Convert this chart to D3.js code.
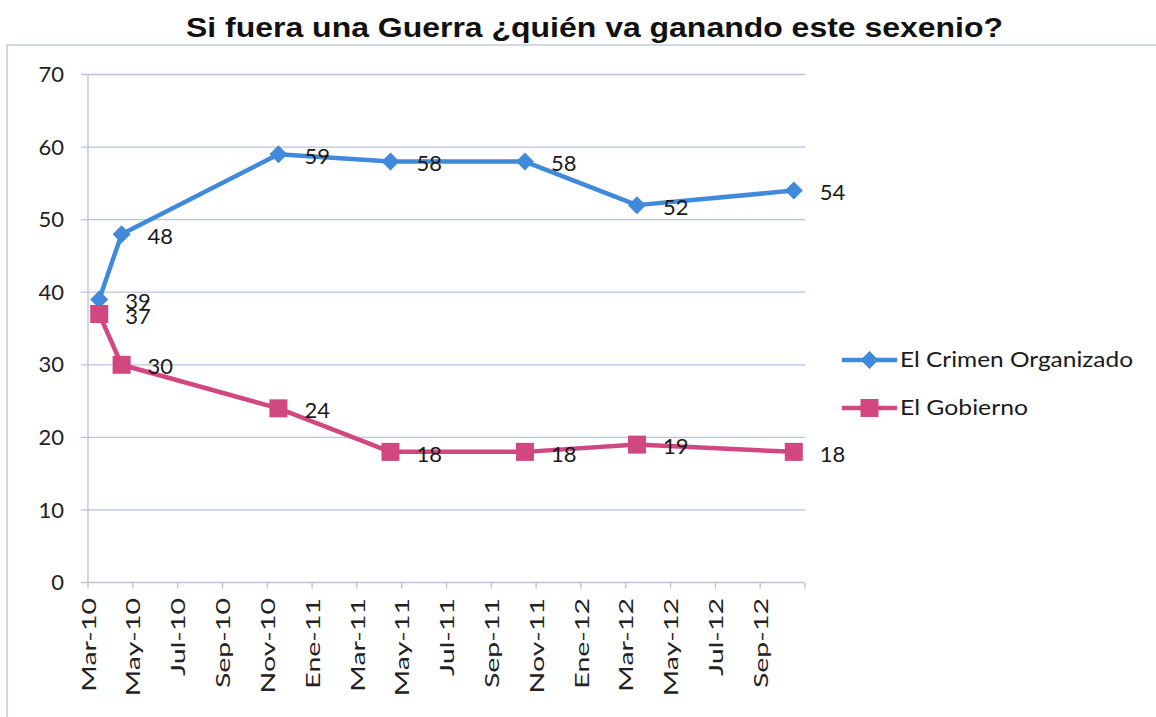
<!DOCTYPE html>
<html>
<head>
<meta charset="utf-8">
<script src="https://cdn.jsdelivr.net/npm/d3@7"></script>
<style>
    body { margin: 0; background: #fff; }
    svg { display: block; }
</style>
</head>
<body>
<div id="chart"></div>
<script>
// month index counted from Mar-10
const months = [0, 1, 8, 13, 19, 24, 31];
const crimen = [39, 48, 59, 58, 58, 52, 54];
const gobierno = [37, 30, 24, 18, 18, 19, 18];
const tickLabels = ['Mar-10', 'May-10', 'Jul-10', 'Sep-10', 'Nov-10', 'Ene-11', 'Mar-11', 'May-11',
    'Jul-11', 'Sep-11', 'Nov-11', 'Ene-12', 'Mar-12', 'May-12', 'Jul-12', 'Sep-12'];
const yTicks = [0, 10, 20, 30, 40, 50, 60, 70];

const series = [
    { name: 'El Crimen Organizado', values: crimen, color: '#4189da', shape: 'diamond' },
    { name: 'El Gobierno', values: gobierno, color: '#d1477f', shape: 'square' }
];

const width = 1156, height = 717;
const font = 'Lato, "Noto Sans", sans-serif';

const svg = d3.select('#chart').append('svg')
    .attr('width', width)
    .attr('height', height);

// outer chart frame (top and left edges visible)
svg.append('path')
    .attr('d', `M7,${height} L7,45 L${width},45`)
    .attr('fill', 'none')
    .attr('stroke', '#c5cbe0')
    .attr('stroke-width', 1.5);

svg.append('text')
    .attr('x', 186)
    .attr('y', 37)
    .attr('textLength', 817)
    .attr('lengthAdjust', 'spacingAndGlyphs')
    .attr('font-family', 'Arial, "Liberation Sans", sans-serif')
    .attr('font-weight', 'bold')
    .attr('font-size', 28)
    .attr('fill', '#111')
    .text('Si fuera una Guerra ¿quién va ganando este sexenio?');

const x = d3.scaleLinear().domain([0, 32]).range([88, 805]);
const y = d3.scaleLinear().domain([0, 70]).range([582.5, 74.5]);

const gridColor = '#b9c1dd';

// horizontal gridlines
svg.append('g')
    .selectAll('line')
    .data(yTicks)
    .join('line')
    .attr('x1', x(0) - 7)
    .attr('x2', x(32))
    .attr('y1', d => y(d))
    .attr('y2', d => y(d))
    .attr('stroke', gridColor)
    .attr('stroke-width', 1.3);

// y axis line
svg.append('line')
    .attr('x1', x(0)).attr('x2', x(0))
    .attr('y1', y(70)).attr('y2', y(0))
    .attr('stroke', gridColor)
    .attr('stroke-width', 1.3);

// y labels
svg.append('g')
    .selectAll('text')
    .data(yTicks)
    .join('text')
    .attr('x', 64)
    .attr('y', d => y(d))
    .attr('dy', '0.35em')
    .attr('text-anchor', 'end')
    .attr('font-family', font)
    .attr('font-size', 22)
    .attr('fill', '#222')
    .text(d => d);

// x ticks every two months
const xTickIdx = d3.range(0, 33, 2);
svg.append('g')
    .selectAll('line')
    .data(xTickIdx)
    .join('line')
    .attr('x1', d => x(d)).attr('x2', d => x(d))
    .attr('y1', y(0)).attr('y2', y(0) + 6)
    .attr('stroke', gridColor)
    .attr('stroke-width', 1.3);

// labels are drawn taller than wide, like the source
svg.append('g')
    .selectAll('text')
    .data(tickLabels)
    .join('text')
    .attr('transform', (d, i) => `translate(${x(i * 2) + 1},598) rotate(-90) scale(1.5,1)`)
    .attr('dy', '0.35em')
    .attr('text-anchor', 'end')
    .attr('font-family', font)
    .attr('font-size', 19)
    .attr('fill', '#222')
    .text(d => d);

const line = d3.line()
    .x(d => x(d.m + 0.5))
    .y(d => y(d.v));

function marker(sel, shape, color) {
    if (shape === 'diamond') {
        sel.append('path')
            .attr('d', 'M0,-9 L9,0 L0,9 L-9,0 Z')
            .attr('fill', color);
    } else {
        sel.append('rect')
            .attr('x', -9).attr('y', -9)
            .attr('width', 18).attr('height', 18)
            .attr('fill', color);
    }
}

series.forEach(s => {
    const pts = months.map((m, i) => ({ m: m, v: s.values[i] }));

    svg.append('path')
        .datum(pts)
        .attr('d', line)
        .attr('fill', 'none')
        .attr('stroke', s.color)
        .attr('stroke-width', 4.5)
        .attr('stroke-linejoin', 'round');

    svg.append('g')
        .selectAll('g')
        .data(pts)
        .join('g')
        .attr('transform', d => `translate(${x(d.m + 0.5)},${y(d.v)})`)
        .each(function () { marker(d3.select(this), s.shape, s.color); });

    svg.append('g')
        .selectAll('text')
        .data(pts)
        .join('text')
        .attr('x', d => x(d.m + 0.5) + 26)
        .attr('y', d => y(d.v) + 2)
        .attr('dy', '0.35em')
        .attr('font-family', font)
        .attr('font-size', 22)
        .attr('fill', '#1a1a1a')
        .text(d => d.v);
});

// legend
const legend = svg.append('g')
    .selectAll('g')
    .data(series)
    .join('g')
    .attr('transform', (d, i) => `translate(842,${360 + i * 48})`);

legend.append('line')
    .attr('x1', 0).attr('x2', 55)
    .attr('stroke', d => d.color)
    .attr('stroke-width', 4.5);

legend.each(function (d) {
    const g = d3.select(this).append('g').attr('transform', 'translate(27.5,0)');
    marker(g, d.shape, d.color);
});

legend.append('text')
    .attr('x', 58)
    .attr('dy', '0.35em')
    .attr('font-family', font)
    .attr('font-size', 21)
    .attr('fill', '#1a1a1a')
    .attr('textLength', (d, i) => i === 0 ? 233 : 128)
    .attr('lengthAdjust', 'spacingAndGlyphs')
    .text(d => d.name);
</script>
</body>
</html>
